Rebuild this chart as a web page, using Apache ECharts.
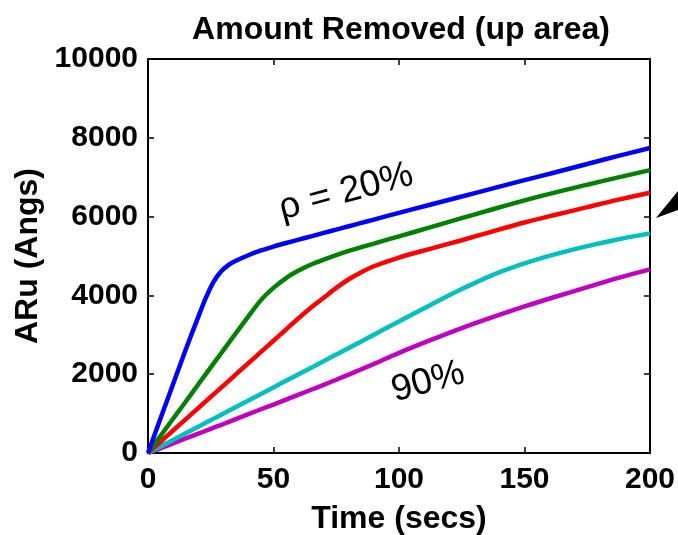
<!DOCTYPE html>
<html>
<head>
<meta charset="utf-8">
<script src="https://cdn.jsdelivr.net/npm/echarts@6/dist/echarts.min.js"></script>
<style>html,body{margin:0;padding:0;background:#fff;}#c{width:678px;height:535px;}</style>
</head>
<body>
<div id="c"></div>
<script>
var times = [0,5,10,15,20,23,26,29,32,35,40,45,50,55,60,65,70,75,80,85,90,100,112,125,137,150,162,175,187,200];
var rho20 = [0,880,1750,2620,3450,3930,4330,4600,4770,4880,5020,5140,5240,5330,5415,5500,5585,5670,5755,5840,5925,6095,6295,6510,6710,6925,7120,7335,7535,7740];
var rho40 = [0,435,870,1300,1740,2000,2260,2520,2780,3040,3470,3880,4190,4440,4630,4785,4910,5025,5130,5225,5315,5500,5720,5960,6180,6410,6610,6810,6990,7180];
var rho60 = [0,285,570,855,1140,1310,1480,1650,1820,1995,2280,2565,2850,3135,3420,3690,3940,4190,4410,4590,4740,4960,5175,5400,5620,5850,6040,6240,6425,6607];
var rho80 = [0,167,333,500,666,766,866,966,1066,1166,1333,1500,1665,1832,2000,2165,2330,2500,2665,2832,3000,3340,3740,4160,4510,4810,5040,5250,5420,5575];
var rho90 = [0,120,245,370,490,565,640,710,785,860,985,1110,1230,1355,1480,1605,1730,1860,1990,2125,2260,2540,2850,3170,3440,3720,3960,4210,4440,4662];
var xTicks = [0,50,100,150,200];
var yTicks = [0,2000,4000,6000,8000,10000];
var colors = ['#0000ff','#008000','#ff0000','#00bfbf','#bf00bf'];
var seriesVals = [rho20, rho40, rho60, rho80, rho90];

var FONT = "'Liberation Sans', Arial, sans-serif";
function pairs(v){ return times.map(function(t,i){ return [t, v[i]]; }); }

var chart = echarts.init(document.getElementById('c'));
function axisCommon(){
  return {
    axisLine:{show:true, onZero:false, lineStyle:{color:'#000', width:2}},
    axisTick:{show:true, inside:true, length:6, lineStyle:{color:'#000', width:1.5}},
    splitLine:{show:false}
  };
}
chart.setOption({
  animation:false,
  backgroundColor:'#fff',
  title:{text:'Amount Removed (up area)', left:396, top:9, textAlign:'center',
    textStyle:{fontFamily:FONT, fontWeight:'bold', fontSize:32, color:'#000'}},
  grid:{left:148, right:28, top:59, bottom:82, outerBoundsMode:'none', containLabel:false},
  xAxis:[
    Object.assign({type:'value', min:0, max:200, interval:50, position:'bottom',
      name:'Time (secs)', nameLocation:'middle', nameGap:50,
      nameTextStyle:{fontFamily:FONT, fontWeight:'bold', fontSize:32, color:'#000'},
      axisLabel:{fontFamily:FONT, fontWeight:'bold', fontSize:30, color:'#000', margin:12,
        formatter:function(v){ return xTicks.indexOf(v)>=0 ? String(v) : ''; }}}, axisCommon()),
    Object.assign({type:'value', min:0, max:200, interval:50, position:'top', axisLabel:{show:false}}, axisCommon())
  ],
  yAxis:[
    Object.assign({type:'value', min:0, max:10000, interval:2000, position:'left',
      name:'ARu (Angs)', nameLocation:'middle', nameGap:104,
      nameTextStyle:{fontFamily:FONT, fontWeight:'bold', fontSize:32, color:'#000'},
      axisLabel:{fontFamily:FONT, fontWeight:'bold', fontSize:30, color:'#000', margin:10,
        formatter:function(v){ return yTicks.indexOf(v)>=0 ? String(v) : ''; }}}, axisCommon()),
    Object.assign({type:'value', min:0, max:10000, interval:2000, position:'right', axisLabel:{show:false}}, axisCommon())
  ],
  series: seriesVals.map(function(v,i){
    return {type:'line', data:pairs(v), smooth:0.3, showSymbol:false, symbol:'none',
      lineStyle:{color:colors[i], width:4.5}, z:10-i};
  }),
  graphic:[
    {type:'text', x:346, y:192, rotation:15*Math.PI/180,
      style:{text:'\u03c1 = 20%', font:'37px '+FONT, fill:'#000', textAlign:'center', textVerticalAlign:'middle'}},
    {type:'text', x:428, y:382, rotation:15*Math.PI/180,
      style:{text:'90%', font:'37px '+FONT, fill:'#000', textAlign:'center', textVerticalAlign:'middle'}},
    {type:'polygon', shape:{points:[[656,218],[678,191],[678,210]]}, style:{fill:'#000'}}
  ]
});
</script>
</body>
</html>
